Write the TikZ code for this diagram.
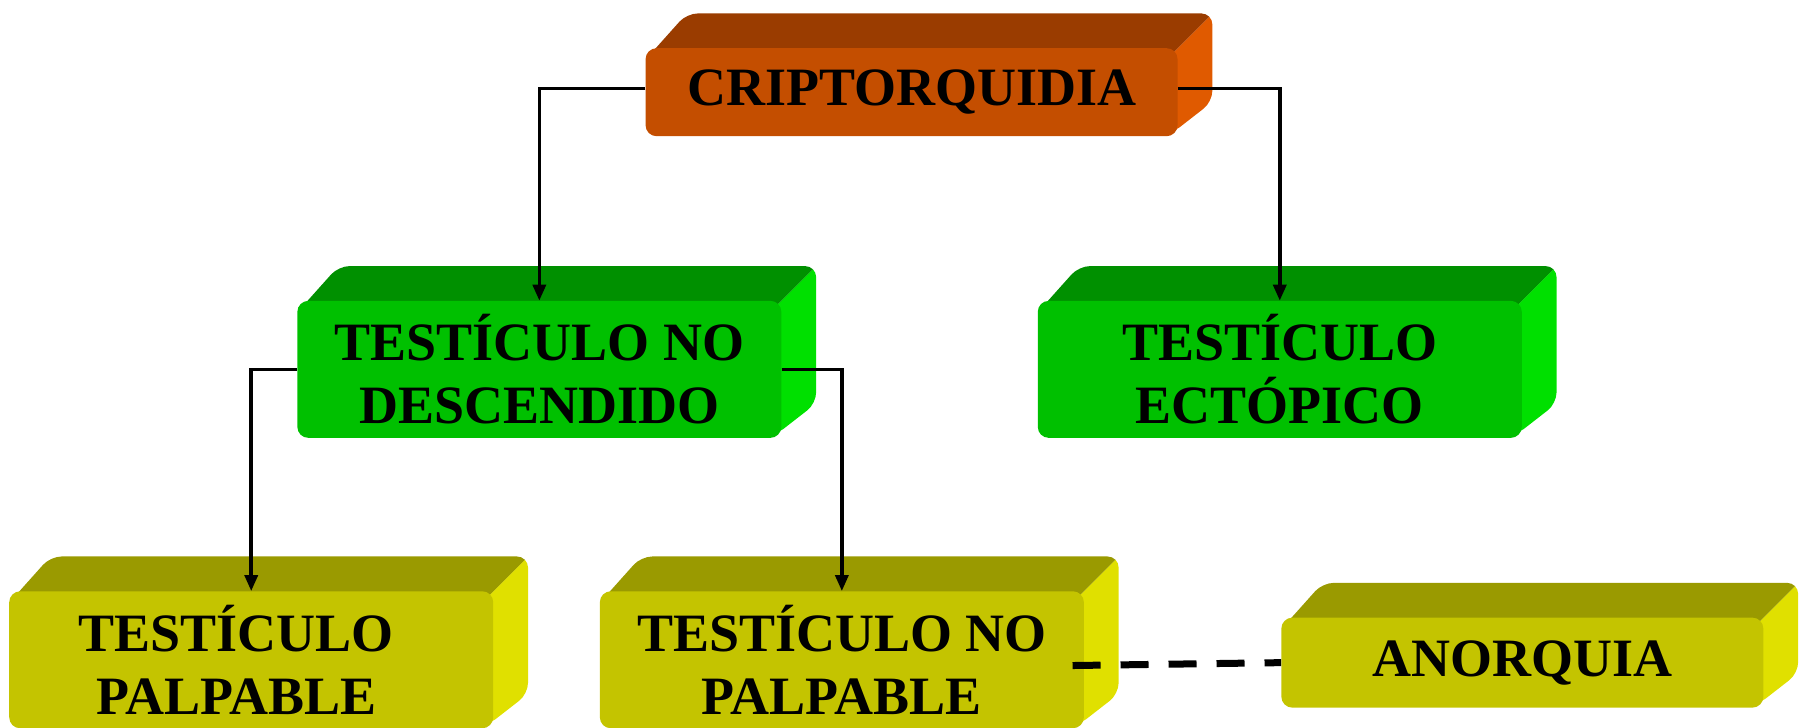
\documentclass[tikz,border=0pt]{standalone}
\usepackage{fontspec}
\setmainfont{Liberation Serif}
\usetikzlibrary{arrows.meta,backgrounds,calc}
\definecolor{orF}{HTML}{C44E00}
\definecolor{orT}{HTML}{9A3C00}
\definecolor{orS}{HTML}{E05A00}
\definecolor{grF}{HTML}{00C000}
\definecolor{grT}{HTML}{009000}
\definecolor{grS}{HTML}{00E000}
\definecolor{yeF}{HTML}{C4C400}
\definecolor{yeT}{HTML}{9A9A00}
\definecolor{yeS}{HTML}{E0E000}
\tikzset{
  box/.style={rounded corners=11pt, align=center, inner sep=0pt,
    font=\fontsize{54}{63}\selectfont\bfseries, text=black},
  conn/.style={line width=3.5pt, -{Triangle[length=16pt,width=13pt]}},
  dashline/.style={line width=7pt, dash pattern=on 28pt off 20pt},
}
\newcommand\boxfaces[3]{%
  \begin{scope}[on background layer]
    \begin{scope}
      \clip[rounded corners=11pt] ($(#1.north west)+(2,8)$) -- ($(#1.north west)+(36,-30)$)
        -- ($(#1.north east)+(30,-30)$) -- ($(#1.south east)+(30,-30)$)
        -- ($(#1.south east)+(-6,-2)$) -- cycle;
      \fill[#3] ($(#1.north east)+(-10,10)$) -- ($(#1.north east)+(40,-40)$)
        -- ($(#1.south east)+(40,-40)$) -- ($(#1.south east)+(-10,10)$) -- cycle;
      \fill[#2] ($(#1.north west)+(-10,10)$) -- ($(#1.north west)+(40,-40)$)
        -- ($(#1.north east)+(40,-40)$) -- ($(#1.north east)+(-10,10)$) -- cycle;
    \end{scope}
  \end{scope}}
\begin{document}
\begin{tikzpicture}[x={(1.1524pt,0)}, y={(0,-1.1524pt)}]
\useasboundingbox (0,0) rectangle (1568,631);
\node[box, fill=orF, minimum width=532pt, minimum height=88pt] (n1) at (791,80) {CRIPTORQUIDIA};
\node[box, fill=grF, minimum width=484pt, minimum height=137pt] (n2) at (468,320.5) {TESTÍCULO NO\\DESCENDIDO};
\node[box, fill=grF, minimum width=484pt, minimum height=137pt] (n3) at (1110.5,320.5) {TESTÍCULO\\ECTÓPICO};
\node[box, fill=yeF, minimum width=484pt, minimum height=137pt] (n4) at (218,572.5) {TESTÍCULO\hspace*{30pt}\\PALPABLE\hspace*{30pt}};
\node[box, fill=yeF, minimum width=484pt, minimum height=137pt] (n5) at (730.5,572.5) {TESTÍCULO NO\\PALPABLE};
\node[box, fill=yeF, minimum width=482pt, minimum height=90pt] (n6) at (1321,575) {ANORQUIA};
\boxfaces{n1}{orT}{orS}
\boxfaces{n2}{grT}{grS}
\boxfaces{n3}{grT}{grS}
\boxfaces{n4}{yeT}{yeS}
\boxfaces{n5}{yeT}{yeS}
\boxfaces{n6}{yeT}{yeS}
\draw[conn] ($(n1.west)+(0,-3)$) -| (n2.north);
\draw[conn] ($(n1.east)+(0,-3)$) -| (n3.north);
\draw[conn] (n2.west) -| (n4.north);
\draw[conn] (n2.east) -| (n5.north);
\draw[dashline] ($(n5.east)+(-10,5)$) -- (n6.west);
\end{tikzpicture}
\end{document}
